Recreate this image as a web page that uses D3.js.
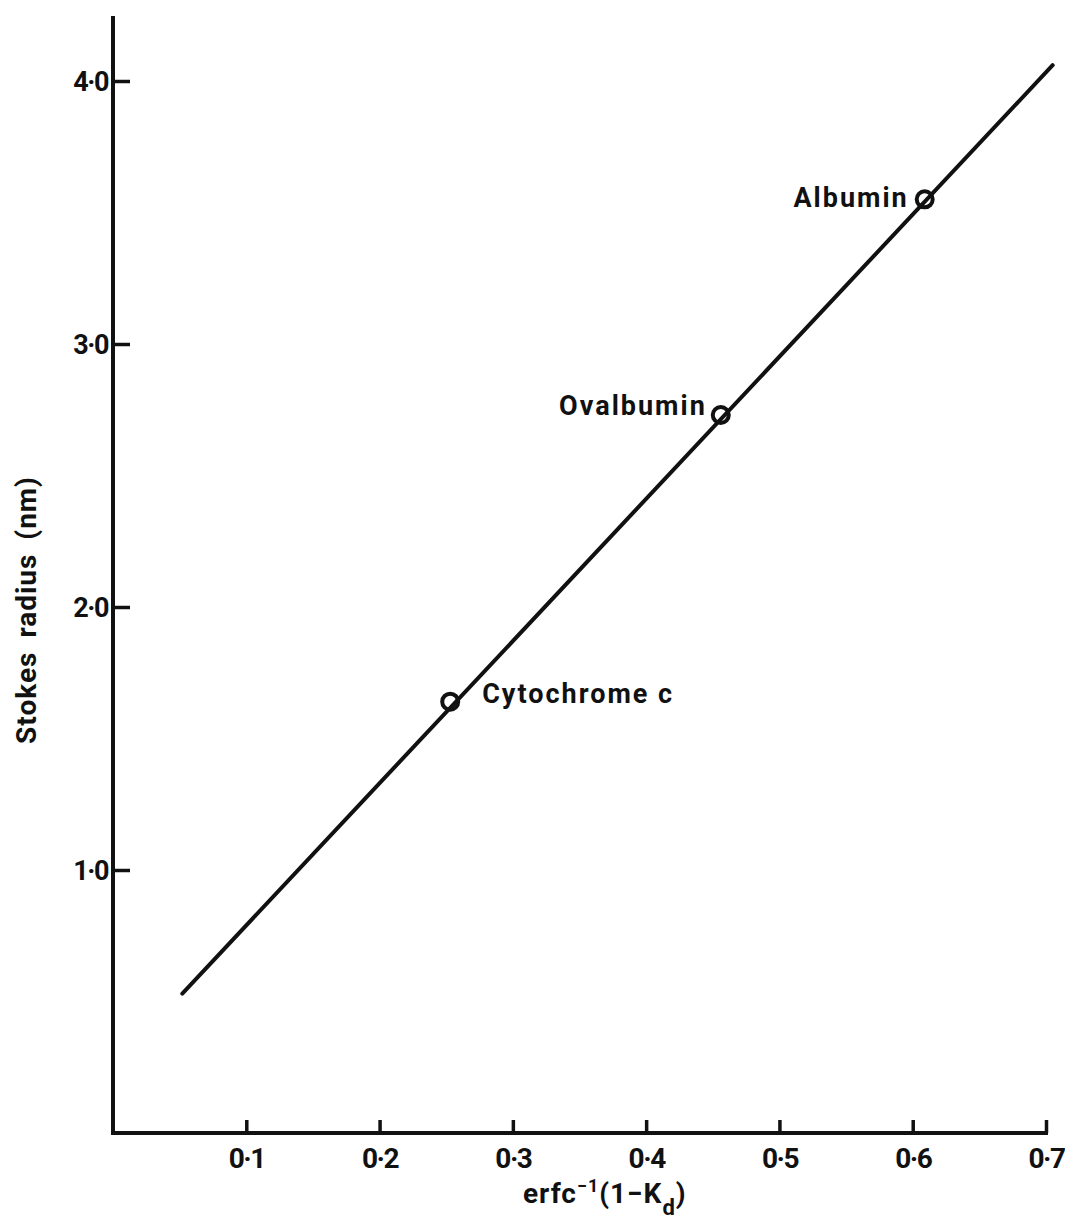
<!DOCTYPE html>
<html>
<head>
<meta charset="utf-8">
<script src="https://cdn.jsdelivr.net/npm/d3@7"></script>
<style>
  html, body { margin: 0; padding: 0; background: #fff; }
  svg text { font-family: Roboto, "DejaVu Sans", sans-serif; font-weight: 700; fill: #111; }
</style>
</head>
<body>
<svg id="chart" width="1065" height="1224"></svg>
<script>
// Calibration proteins: inverse error function of (1 - Kd) against Stokes radius
const proteins = ["Cytochrome c", "Ovalbumin", "Albumin"];
const erfcInv = [0.253, 0.456, 0.609];
const stokesRadius = [1.64, 2.73, 3.55];

// Fitted straight line through the calibration points (end points)
const fitX = [0.052, 0.705];
const fitY = [0.53, 4.06];

const xTickValues = [0.1, 0.2, 0.3, 0.4, 0.5, 0.6, 0.7];
const yTickValues = [1.0, 2.0, 3.0, 4.0];

const svg = d3.select("#chart");
const ink = "#111";

const x = d3.scaleLinear().domain([0, 0.7]).range([113, 1046]);
const y = d3.scaleLinear().domain([0, 4]).range([1133, 81]);

const fmt = v => d3.format(".1f")(v).replace(".", "\u00b7");

// y axis: ticks point into the plot, line runs up past 4.0
const yAxis = svg.append("g")
  .attr("transform", `translate(${x(0)},0)`)
  .call(d3.axisLeft(y).tickValues(yTickValues).tickSize(-17).tickPadding(5).tickFormat(fmt));
yAxis.select(".domain").remove();
yAxis.selectAll(".tick line").attr("stroke", ink).attr("stroke-width", 3.5);
yAxis.selectAll(".tick text").attr("font-size", 27).attr("font-family", null)
  .attr("letter-spacing", -1.5).attr("fill", ink).attr("dy", "0.36em");
svg.append("line")
  .attr("x1", x(0)).attr("x2", x(0))
  .attr("y1", y(0)).attr("y2", y(4.24))
  .attr("stroke", ink).attr("stroke-width", 4).attr("stroke-linecap", "square");

// x axis: ticks point up into the plot
const xAxis = svg.append("g")
  .attr("transform", `translate(0,${y(0)})`)
  .call(d3.axisBottom(x).tickValues(xTickValues).tickSize(-13).tickPadding(15).tickFormat(fmt));
xAxis.select(".domain").remove();
xAxis.selectAll(".tick line").attr("stroke", ink).attr("stroke-width", 3.5);
xAxis.selectAll(".tick text").attr("font-size", 28).attr("font-family", null)
  .attr("letter-spacing", -1.5).attr("fill", ink).attr("dy", "0.71em");
svg.append("line")
  .attr("x1", x(0)).attr("x2", x(0.7))
  .attr("y1", y(0)).attr("y2", y(0))
  .attr("stroke", ink).attr("stroke-width", 4).attr("stroke-linecap", "square");

// fitted line
svg.append("path")
  .datum(d3.zip(fitX, fitY))
  .attr("d", d3.line().x(d => x(d[0])).y(d => y(d[1])))
  .attr("fill", "none").attr("stroke", ink).attr("stroke-width", 4).attr("stroke-linecap", "round");

// calibration points (open circles, the fit line runs through them)
const pts = proteins.map((p, i) => ({ name: p, xv: erfcInv[i], yv: stokesRadius[i] }));
svg.selectAll("circle.pt").data(pts).join("circle")
  .attr("class", "pt")
  .attr("cx", d => x(d.xv)).attr("cy", d => y(d.yv)).attr("r", 8)
  .attr("fill", "none").attr("stroke", ink).attr("stroke-width", 4);

// point labels: Cytochrome c to the right, others to the left
const labelPos = {
  "Cytochrome c": { dx: 32, dy: 1, anchor: "start" },
  "Ovalbumin": { dx: -14, dy: 0, anchor: "end" },
  "Albumin": { dx: -16, dy: 8, anchor: "end" }
};
svg.selectAll("text.lbl").data(pts).join("text")
  .attr("class", "lbl")
  .attr("x", d => x(d.xv) + labelPos[d.name].dx)
  .attr("y", d => y(d.yv) + labelPos[d.name].dy)
  .attr("text-anchor", d => labelPos[d.name].anchor)
  .attr("font-size", 27)
  .attr("letter-spacing", 2)
  .text(d => d.name);

// axis titles
const xt = svg.append("text")
  .attr("x", 523).attr("y", 1203)
  .attr("font-size", 28).attr("letter-spacing", 1);
xt.append("tspan").text("erfc");
xt.append("tspan").attr("font-size", 18).attr("dy", -11).text("\u22121");
xt.append("tspan").attr("dy", 11).text("(1\u2212K");
xt.append("tspan").attr("font-size", 22).attr("dy", 12).text("d");
xt.append("tspan").attr("dy", -12).text(")");

svg.append("text")
  .attr("transform", `translate(36,${610}) rotate(-90)`)
  .attr("text-anchor", "middle")
  .attr("font-size", 28)
  .attr("letter-spacing", 1)
  .attr("word-spacing", 6)
  .text("Stokes radius (nm)");
</script>
</body>
</html>
